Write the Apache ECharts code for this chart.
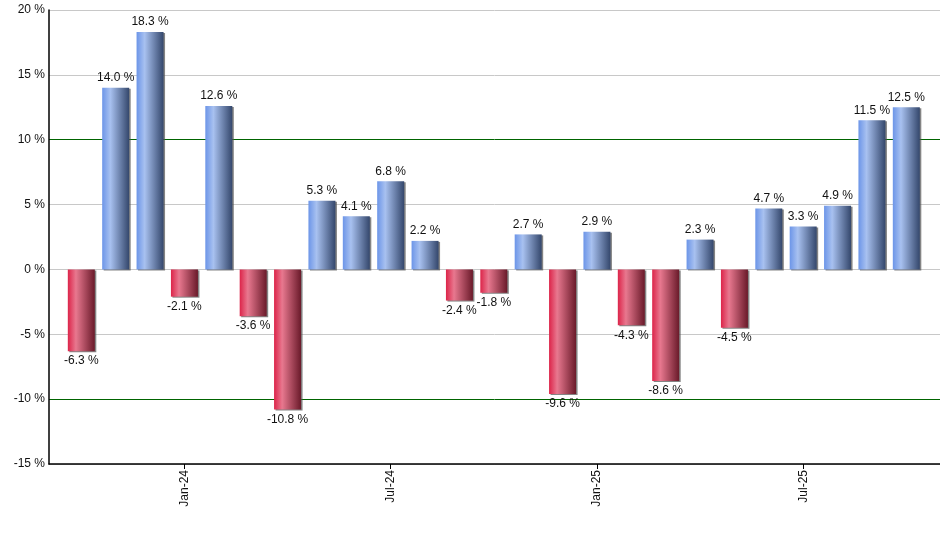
<!DOCTYPE html>
<html>
<head>
<meta charset="utf-8">
<script src="https://cdn.jsdelivr.net/npm/echarts@6/dist/echarts.min.js"></script>
<style>html,body{margin:0;padding:0;background:#fff}#c{width:940px;height:550px}</style>
</head>
<body>
<div id="c"></div>
<script>
const months = ['Oct-23','Nov-23','Dec-23','Jan-24','Feb-24','Mar-24','Apr-24','May-24','Jun-24','Jul-24','Aug-24','Sep-24','Oct-24','Nov-24','Dec-24','Jan-25','Feb-25','Mar-25','Apr-25','May-25','Jun-25','Jul-25','Aug-25','Sep-25','Oct-25'];
const returns = [-6.3,14.0,18.3,-2.1,12.6,-3.6,-10.8,5.3,4.1,6.8,2.2,-2.4,-1.8,2.7,-9.6,2.9,-4.3,-8.6,2.3,-4.5,4.7,3.3,4.9,11.5,12.5];
const tickMonths = ['Jan-24','Jul-24','Jan-25','Jul-25'];
const yTicks = [-15,-10,-5,0,5,10,15,20];

const tickIdx = tickMonths.map(m => months.indexOf(m));
const blueGrad = new echarts.graphic.LinearGradient(0,0,1,0,[
  {offset:0,color:'#6c95e8'},{offset:0.3,color:'#a8c1f0'},{offset:1,color:'#34476c'}]);
const redGrad = new echarts.graphic.LinearGradient(0,0,1,0,[
  {offset:0,color:'#dc2449'},{offset:0.3,color:'#e8788f'},{offset:1,color:'#6a1a2a'}]);

const chart = echarts.init(document.getElementById('c'));
chart.setOption({
  animation:false,
  grid:{left:49,right:0,top:10,bottom:86,containLabel:false},
  xAxis:{
    type:'value', min:-0.94, max:24.98,
    axisLine:{onZero:false,lineStyle:{color:'#000',width:1.5}},
    splitLine:{show:false},
    axisTick:{show:true,customValues:tickIdx,length:5,lineStyle:{color:'#000'}},
    axisLabel:{customValues:tickIdx,rotate:90,fontSize:12,color:'#111',fontFamily:'Liberation Sans, Arial',margin:6,
      formatter:v=>months[Math.round(v)]}
  },
  yAxis:{
    type:'value', min:yTicks[0], max:yTicks[yTicks.length-1], interval:5,
    axisLine:{show:true,onZero:false,lineStyle:{color:'#000',width:1.5}},
    axisTick:{show:false},
    axisLabel:{fontSize:12,color:'#111',fontFamily:'Liberation Sans, Arial',margin:4,formatter:v=>v+' %'},
    splitLine:{show:true,lineStyle:{color:['#c8c8c8','#006400','#c8c8c8','#c8c8c8','#c8c8c8','#006400','#c8c8c8','#c8c8c8'],width:1}}
  },
  series:[{
    type:'bar',
    barWidth:27,
    data:returns.map((v,i)=>({value:[i,v],itemStyle:{color:v>=0?blueGrad:redGrad}})),
    itemStyle:{shadowColor:'rgba(80,80,80,0.7)',shadowOffsetX:1.5,shadowOffsetY:1,shadowBlur:0},
    label:{show:true,position:'outside',distance:4,fontSize:12,color:'#111',fontFamily:'Liberation Sans, Arial',
      formatter:p=>p.value[1].toFixed(1)+' %'}
  }]
});
</script>
</body>
</html>
